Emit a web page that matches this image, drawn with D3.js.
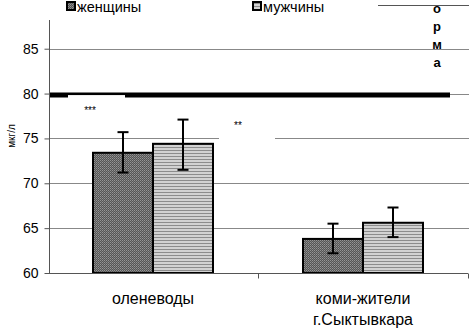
<!DOCTYPE html>
<html>
<head>
<meta charset="utf-8">
<script src="https://d3js.org/d3.v7.min.js"></script>
<style>
  body { margin: 0; background: #fff; }
  text { font-family: Arial, "Liberation Sans", sans-serif; }
</style>
</head>
<body>
<svg width="469" height="328"></svg>
<script>
// chart data
var groups = ["оленеводы", "коми-жители|г.Сыктывкара"];
var series = ["женщины", "мужчины"];
var means = [[73.4, 74.4], [63.8, 65.6]];
var errLow = [[71.2, 71.5], [62.2, 64.0]];
var errHigh = [[75.7, 77.1], [65.5, 67.3]];
var yTicks = [60, 65, 70, 75, 80, 85];
var norm = 80;
var signif = ["***", "**"];

var svg = d3.select("svg");
var pLeft = 49, pRight = 468, pTop = 20, pBottom = 273;

var y = d3.scaleLinear().domain([60, 88.2]).range([pBottom, pTop]);
var x0 = d3.scaleBand().domain(groups).range([pLeft - 1, pRight]);
var x1 = d3.scaleBand().domain(series).range([45, 165]);

// patterns
var defs = svg.append("defs");
var p1 = defs.append("pattern").attr("id", "pw").attr("patternUnits", "userSpaceOnUse")
  .attr("width", 2).attr("height", 2);
p1.append("rect").attr("width", 2).attr("height", 2).attr("fill", "#555");
p1.append("rect").attr("width", 1).attr("height", 1).attr("fill", "#959595");
p1.append("rect").attr("x", 1).attr("y", 1).attr("width", 1).attr("height", 1).attr("fill", "#7c7c7c");
var p2 = defs.append("pattern").attr("id", "pm").attr("patternUnits", "userSpaceOnUse")
  .attr("width", 3).attr("height", 3);
p2.append("rect").attr("width", 3).attr("height", 3).attr("fill", "#d2d2d2");
p2.append("rect").attr("width", 3).attr("height", 1).attr("fill", "#8c8c8c");
var fills = ["url(#pw)", "url(#pm)"];

// gridlines
svg.append("g").selectAll("line").data(yTicks.slice(1)).enter().append("line")
  .attr("x1", pLeft).attr("x2", 469)
  .attr("y1", function(d) { return Math.round(y(d)) + 0.5; })
  .attr("y2", function(d) { return Math.round(y(d)) + 0.5; })
  .attr("stroke", "#888").attr("stroke-width", 1);

// norm line
svg.append("line").attr("x1", pLeft).attr("x2", 450)
  .attr("y1", y(norm) + 1.5).attr("y2", y(norm) + 1.5)
  .attr("stroke", "#000").attr("stroke-width", 5);

// significance labels with white boxes
var sig = [{t: signif[0], x: 90, y: y(norm) + 20, bx: 68, bw: 57, by: y(norm) + 1.5},
           {t: signif[1], x: 238, y: y(75) - 9, bx: 219, bw: 56, by: y(75) - 20}];
sig.forEach(function(s) {
  svg.append("rect").attr("x", s.bx).attr("y", s.by).attr("width", s.bw).attr("height", 22).attr("fill", "#fff");
  svg.append("text").attr("x", s.x).attr("y", s.y).attr("text-anchor", "middle")
    .attr("font-size", 10).attr("fill", "#000").text(s.t);
});

// bars
var bars = svg.append("g").selectAll("g").data(groups).enter().append("g")
  .attr("transform", function(d) { return "translate(" + x0(d) + ",0)"; });
bars.selectAll("rect").data(function(d, gi) { return series.map(function(s, si) { return {s: s, si: si, v: means[gi][si]}; }); })
  .enter().append("rect")
  .attr("x", function(d) { return x1(d.s); })
  .attr("y", function(d) { return y(d.v); })
  .attr("width", x1.bandwidth())
  .attr("height", function(d) { return pBottom - y(d.v); })
  .attr("fill", function(d) { return fills[d.si]; })
  .attr("stroke", "#000").attr("stroke-width", 2);

// error bars
bars.each(function(g, gi) {
  var sel = d3.select(this);
  series.forEach(function(s, si) {
    var cx = x1(s) + x1.bandwidth() / 2;
    var lo = y(errLow[gi][si]), hi = y(errHigh[gi][si]);
    sel.append("line").attr("x1", cx).attr("x2", cx).attr("y1", lo).attr("y2", hi).attr("stroke", "#000").attr("stroke-width", 2);
    [lo, hi].forEach(function(yy) {
      sel.append("line").attr("x1", cx - 5.5).attr("x2", cx + 5.5).attr("y1", yy).attr("y2", yy).attr("stroke", "#000").attr("stroke-width", 2);
    });
  });
});

// y axis
var yAxis = svg.append("g").attr("transform", "translate(" + (pLeft + 0.5) + ",0)")
  .call(d3.axisLeft(y).tickValues(yTicks).tickSize(5).tickPadding(6));
yAxis.select(".domain").attr("stroke", "#555").attr("d", "M0," + pTop + "V" + pBottom);
yAxis.selectAll(".tick line").attr("stroke", "#555");
yAxis.selectAll("text").attr("font-size", 14).attr("fill", "#000").attr("font-family", "Arial, 'Liberation Sans', sans-serif");

// x axis
var xAxis = svg.append("g").attr("transform", "translate(0," + (pBottom + 0.5) + ")");
xAxis.append("line").attr("x1", pLeft).attr("x2", pRight).attr("stroke", "#555");
xAxis.selectAll(".tk").data([x0(groups[1]), pRight]).enter().append("line")
  .attr("x1", function(d) { return d + 0.5; }).attr("x2", function(d) { return d + 0.5; })
  .attr("y1", 0).attr("y2", 5).attr("stroke", "#555");
xAxis.selectAll(".xl").data(groups).enter().append("text")
  .attr("x", function(d) { return x0(d) + x0.bandwidth() / 2; })
  .attr("y", 30).attr("text-anchor", "middle").attr("font-size", 16)
  .each(function(d) {
    var t = d3.select(this);
    d.split("|").forEach(function(line, i) {
      t.append("tspan").attr("x", t.attr("x")).attr("dy", i ? 21 : 0).text(line);
    });
  });

// y label
svg.append("text").attr("transform", "translate(15,136) rotate(-90)")
  .attr("text-anchor", "middle").attr("font-size", 10).text("мкг/л");

// legend
var leg = svg.append("g");
[66, 252].forEach(function(lx, i) {
  leg.append("rect").attr("x", lx + 1).attr("y", 2).attr("width", 8).attr("height", 8)
    .attr("fill", fills[i]).attr("stroke", "#000").attr("stroke-width", 2);
  leg.append("text").attr("x", lx + 11).attr("y", 12).attr("font-size", 14.5).text(series[i]);
});
leg.append("line").attr("x1", 378).attr("x2", 469).attr("y1", 5.5).attr("y2", 5.5).attr("stroke", "#555");
var normLetters = "норма".split("");
leg.selectAll(".nl").data(normLetters).enter().append("text")
  .attr("x", 437).attr("y", function(d, i) { return -5 + i * 18; })
  .attr("text-anchor", "middle").attr("font-size", 13).attr("font-weight", "bold")
  .text(function(d) { return d; });
</script>
</body>
</html>
